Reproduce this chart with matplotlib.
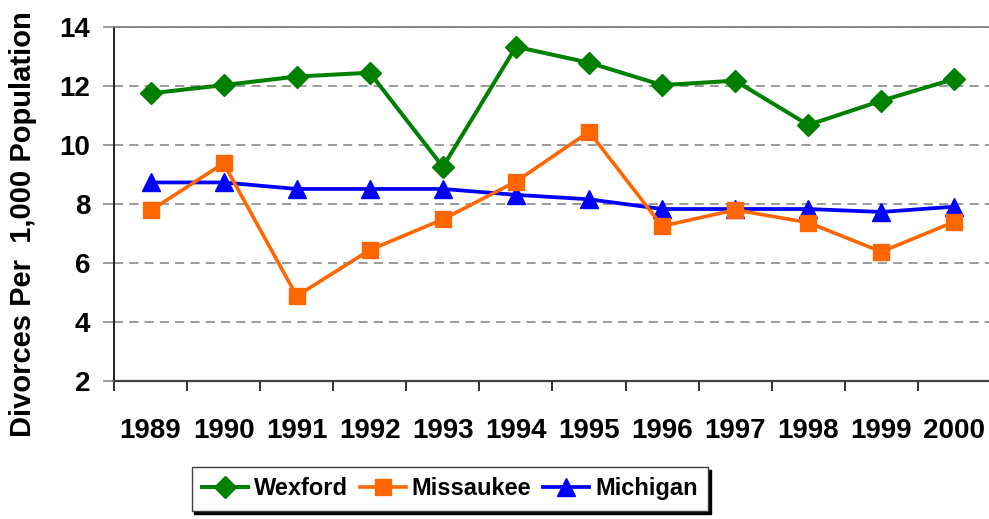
import matplotlib.pyplot as plt
import numpy as np

# Divorces per 1,000 population
years = ["1989", "1990", "1991", "1992", "1993", "1994",
         "1995", "1996", "1997", "1998", "1999", "2000"]
wexford = [11.75, 12.03, 12.32, 12.45, 9.26, 13.33, 12.79, 12.03, 12.18, 10.68, 11.50, 12.24]
missaukee = [7.78, 9.38, 4.88, 6.44, 7.48, 8.76, 10.45, 7.25, 7.80, 7.37, 6.38, 7.40]
michigan = [8.73, 8.73, 8.51, 8.51, 8.51, 8.31, 8.16, 7.83, 7.83, 7.83, 7.73, 7.91]
y_ticks = [2, 4, 6, 8, 10, 12, 14]

plt.rcParams['font.family'] = ['Liberation Sans', 'DejaVu Sans']
plt.rcParams['font.weight'] = 'bold'

fig = plt.figure(figsize=(9.89, 5.19), dpi=100)
ax = fig.add_axes([114 / 989, 138 / 519, 877 / 989, 354 / 519])

x = np.arange(len(years))
ax.plot(x, wexford, color="#008000", lw=2.9, marker="D", ms=11.5, label="Wexford", zorder=5)
ax.plot(x, missaukee, color="#FF6600", lw=2.6, marker="s", ms=11, label="Missaukee", zorder=4)
ax.plot(x, michigan, color="#0000FF", lw=2.7, marker="^", ms=13, label="Michigan", zorder=3)

ax.set_xlim(-0.5, len(years) - 0.5)
ax.set_ylim(2, 14)

# ---- axes styling ----
ax.set_yticks(y_ticks)
ax.set_yticklabels([str(v) for v in y_ticks], fontsize=20, fontweight="bold")
ax.tick_params(axis="y", direction="out", length=8, width=1.1, color="#808080", pad=9)

ax.set_xticks(x)
ax.set_xticklabels(years, fontsize=20, fontweight="bold")
ax.set_xticks(np.arange(-0.5, len(years)), minor=True)
ax.tick_params(axis="x", which="major", length=0, pad=27)
ax.tick_params(axis="x", which="minor", direction="out", length=7, width=1.4, color="#303030")

ax.grid(axis="y", color="#808080", linestyle=(0, (6, 4)), lw=1.1)
ax.grid(axis="x", visible=False)
ax.set_axisbelow(True)

ax.spines["right"].set_visible(False)
ax.spines["top"].set_color("#808080")
ax.spines["top"].set_linewidth(1.3)
ax.spines["left"].set_color("#202020")
ax.spines["left"].set_linewidth(1.4)
ax.spines["bottom"].set_color("#404040")
ax.spines["bottom"].set_linewidth(1.6)

fig.text(23 / 989, 0.568, "Divorces Per  1,000 Population", rotation=90,
         ha="center", va="center", fontsize=21, fontweight="bold")

leg = fig.legend(loc="center", bbox_to_anchor=(0.455, 0.058), ncol=3,
                 fontsize=17, frameon=True, fancybox=False, shadow={"color": "black", "alpha": 1},
                 handlelength=1.95, handletextpad=0.25, columnspacing=0.5,
                 borderpad=0.45, borderaxespad=0)
leg.get_frame().set_edgecolor("#404040")
leg.get_frame().set_linewidth(1.0)
leg.get_frame().set_alpha(1)

plt.savefig("out.png", dpi=100)
